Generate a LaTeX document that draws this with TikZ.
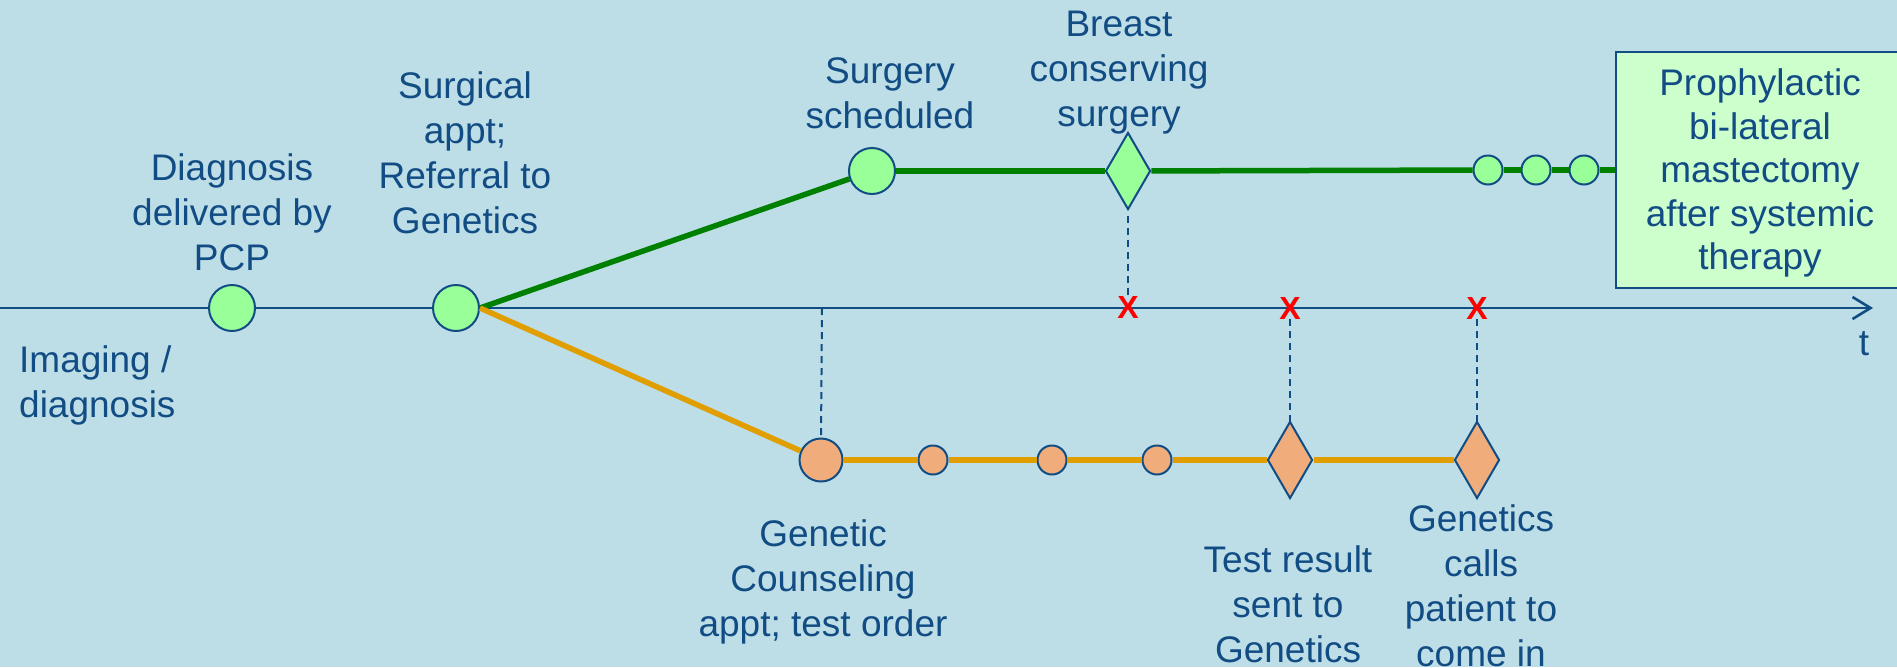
\documentclass[tikz,border=0pt]{standalone}
\usepackage{fontspec}
\setmainfont{Liberation Sans}
\usetikzlibrary{shapes.geometric,arrows.meta}
\definecolor{bgblue}{HTML}{BDDEE6}
\definecolor{inkblue}{HTML}{124C84}
\definecolor{pathgreen}{HTML}{008000}
\definecolor{mintfill}{HTML}{99FF99}
\definecolor{boxfill}{HTML}{CCFFCC}
\definecolor{pathorange}{HTML}{E19E00}
\definecolor{peachfill}{HTML}{F0AD7B}
\definecolor{markred}{HTML}{FF0000}
\begin{document}
\begin{tikzpicture}[x=1pt,y=-1pt,
  lbl/.style={text=inkblue,align=center,font=\fontsize{37}{45}\selectfont,inner sep=0pt},
  dot/.style={circle,draw=inkblue,line width=2pt,inner sep=0pt,minimum size=#1},
  gdot/.style={dot=#1,fill=mintfill},
  odot/.style={dot=#1,fill=peachfill},
  gem/.style={diamond,draw=inkblue,line width=2pt,inner sep=0pt,minimum width=45pt,minimum height=77pt},
  axis/.style={draw=inkblue,line width=2.6pt,-{Straight Barb[length=18pt,width=22pt,line width=2.6pt]}},
  greenpath/.style={draw=pathgreen,line width=5.5pt},
  orangepath/.style={draw=pathorange,line width=5.5pt},
  guide/.style={draw=inkblue,line width=2pt,dash pattern=on 7pt off 5pt},
  cross/.style={text=markred,font=\fontsize{32}{32}\selectfont\bfseries,inner sep=0pt}
]
% canvas
\fill[bgblue] (0,0) rectangle (1897,667);
\useasboundingbox (0,0) rectangle (1897,667);

% time axis
\coordinate (tstart) at (0,308);
\coordinate (tend) at (1873,308);
\coordinate (tgc) at (822,308);
\draw[axis] (tstart) -- (tend);
\node[lbl] (tlabel) at (1864,344) {t};

% main-line events
\node[gdot=46pt] (c1) at (232,308) {};
\node[gdot=46pt] (c2) at (456,308) {};

% surgical branch
\node[gdot=46pt] (c3) at (872,171) {};
\node[gem,fill=mintfill] (d1) at (1128,171) {};
\node[gdot=29pt] (g1) at (1488,170) {};
\node[gdot=29pt] (g2) at (1536,170) {};
\node[gdot=29pt] (g3) at (1584,170) {};
\node[draw=inkblue,line width=2pt,fill=boxfill,minimum width=284pt,minimum height=236pt,inner sep=0pt] (box) at (1758,170) {};
\node[lbl,font=\fontsize{37}{43.5}\selectfont] (boxtext) at (1760,173) {Prophylactic\\bi-lateral\\mastectomy\\after systemic\\therapy};

\draw[greenpath] (c2.east) -- (c3);
\draw[greenpath] (c3) -- (d1);
\draw[greenpath] (d1) -- (g1);
\draw[greenpath] (g1) -- (g2);
\draw[greenpath] (g2) -- (g3);
\draw[greenpath] (g3) -- (box.west |- g3);

% genetics branch
\node[odot=43pt] (o1) at (821,460) {};
\node[odot=29pt] (o2) at (933,460) {};
\node[odot=29pt] (o3) at (1052,460) {};
\node[odot=29pt] (o4) at (1157,460) {};
\node[gem,fill=peachfill] (d2) at (1290,460) {};
\node[gem,fill=peachfill] (d3) at (1477,460) {};

\draw[orangepath] (c2.east) -- (o1);
\draw[orangepath] (o1) -- (o2);
\draw[orangepath] (o2) -- (o3);
\draw[orangepath] (o3) -- (o4);
\draw[orangepath] (o4) -- (d2);
\draw[orangepath] (d2) -- (d3);

% marks on the time axis
\node[cross] (x1) at (1128,307) {X};
\node[cross] (x2) at (1290,308) {X};
\node[cross] (x3) at (1477,308) {X};

\draw[guide] (d1.south) ++(0,5) -- (x1.north);
\draw[guide] (x2.south) -- ([yshift=-4pt]d2.north);
\draw[guide] (x3.south) -- ([yshift=-4pt]d3.north);
\draw[guide] (tgc) -- (o1.north);

% labels
\node[lbl] (ldiag) at (232,212) {Diagnosis\\delivered by\\PCP};
\node[lbl] (lsurg) at (465,153) {Surgical\\appt;\\Referral to\\Genetics};
\node[lbl] (lsched) at (890,93) {Surgery\\scheduled};
\node[lbl] (lbcs) at (1119,73) {Breast\\conserving\\surgery};
\node[lbl,align=left,anchor=west] (limg) at (19,385) {Imaging /\\diagnosis};
\node[lbl] (lgc) at (823,582) {Genetic\\Counseling\\appt; test order};
\node[lbl] (ltest) at (1288,604) {Test result\\sent to\\Genetics};
\node[lbl] (lcall) at (1481,586) {Genetics\\calls\\patient to\\come in};
\end{tikzpicture}
\end{document}
